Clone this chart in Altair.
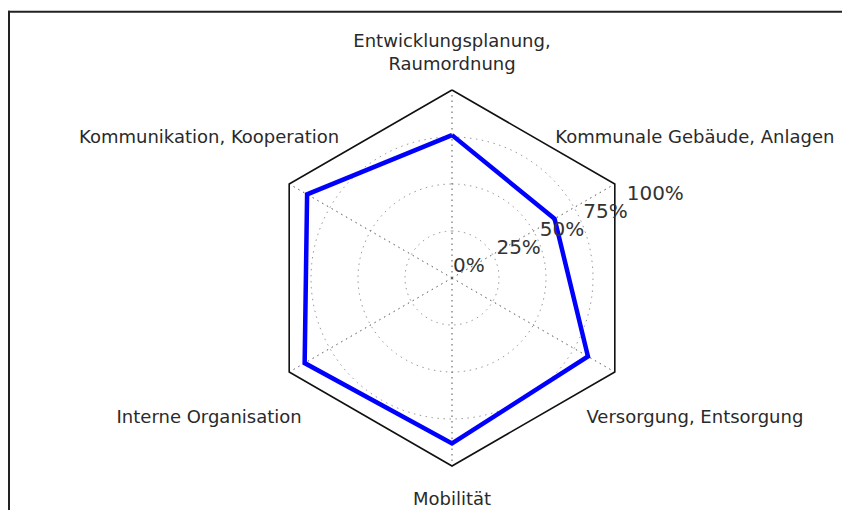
import altair as alt
import pandas as pd

# ---- data ----
categories = [
    "Entwicklungsplanung,\nRaumordnung",
    "Kommunale Gebäude, Anlagen",
    "Versorgung, Entsorgung",
    "Mobilität",
    "Interne Organisation",
    "Kommunikation, Kooperation",
]
values = [0.76, 0.63, 0.835, 0.88, 0.905, 0.89]
ring_levels = [0.25, 0.5, 0.75]
tick_values = [0.0, 0.25, 0.5, 0.75, 1.0]
tick_labels = ["0%", "25%", "50%", "75%", "100%"]

# ---- layout ----
W, H = 834, 502
CX, CY = 444, 270   # centre of the radar inside the plot area (px)
RPX = 188           # pixels per 100 %
LINE_H = 23

xs = alt.Scale(domain=[-CX / RPX, (W - CX) / RPX], nice=False, zero=False)
ys = alt.Scale(domain=[-(H - CY) / RPX, CY / RPX], nice=False, zero=False)


def X(f):
    return alt.X(f, type="quantitative", scale=xs, axis=None)


def Y(f):
    return alt.Y(f, type="quantitative", scale=ys, axis=None)


axis_df = pd.DataFrame({"idx": list(range(len(categories))), "cat": categories, "value": values})
closed_df = pd.concat([axis_df, axis_df.iloc[[0]].assign(idx=len(categories))], ignore_index=True)
ring_df = pd.DataFrame(
    [(lv, d) for lv in ring_levels for d in range(0, 361, 2)], columns=["level", "deg"]
)
tick_df = pd.DataFrame({"v": tick_values, "label": tick_labels})

ANG = "datum.idx * 2 * PI / 6"

base_one = alt.Chart(pd.DataFrame({"k": [0]}))
frame_top = base_one.mark_rule(color="#222222", strokeWidth=2).encode(
    x=alt.value(0), x2=alt.value(W + 30), y=alt.value(3.7)
)
frame_left = base_one.mark_rule(color="#222222", strokeWidth=2).encode(
    x=alt.value(1), y=alt.value(2.7), y2=alt.value(H + 30)
)

rings = alt.Chart(ring_df).transform_calculate(
    x="datum.level * sin(datum.deg * PI / 180)",
    y="datum.level * cos(datum.deg * PI / 180)",
).mark_line(color="#999999", strokeWidth=1, strokeDash=[1.5, 4.5]).encode(
    x=X("x"), y=Y("y"), detail="level:N", order="deg:Q"
)

spokes = alt.Chart(axis_df).transform_calculate(
    x0="0", y0="0", sx=f"sin({ANG})", sy=f"cos({ANG})"
).mark_rule(color="#555555", strokeWidth=1, strokeDash=[1.5, 4]).encode(
    x=X("x0"), y=Y("y0"), x2="sx:Q", y2="sy:Q"
)

hexagon = alt.Chart(closed_df).transform_calculate(
    hx=f"sin({ANG})", hy=f"cos({ANG})"
).mark_line(color="#111111", strokeWidth=1.6, strokeJoin="miter").encode(
    x=X("hx"), y=Y("hy"), order="idx:Q"
)

poly = alt.Chart(closed_df).transform_calculate(
    px=f"datum.value * sin({ANG})", py=f"datum.value * cos({ANG})"
).mark_line(color="#0000ff", strokeWidth=4.5, strokeJoin="miter").encode(
    x=X("px"), y=Y("py"), order="idx:Q"
)

ticks = alt.Chart(tick_df).transform_calculate(
    tx="datum.v * cos(PI / 8)", ty="datum.v * sin(PI / 8)"
).mark_text(
    align="left", baseline="alphabetic", dx=1, dy=-6, fontSize=20,
    font="DejaVu Sans", color="#333333"
).encode(x=X("tx"), y=Y("ty"), text="label:N")

cats = alt.Chart(axis_df).transform_calculate(
    rl=f"1.18 + 0.36 * abs(sin({ANG}))",
    nlines="length(split(datum.cat, '\\n'))",
).transform_calculate(
    lx=f"datum.rl * sin({ANG})",
    ly=f"datum.rl * cos({ANG}) + (datum.nlines - 1) * {(LINE_H / 2 + 3) / RPX}",
).mark_text(
    align="center", baseline="middle", lineBreak="\n", lineHeight=LINE_H,
    fontSize=18, font="DejaVu Sans", color="#2a2a2a"
).encode(x=X("lx"), y=Y("ly"), text="cat:N")

chart = alt.layer(
    frame_top, frame_left, rings, spokes, hexagon, poly, ticks, cats
).properties(
    width=W, height=H, padding=0, autosize=alt.AutoSizeParams(type="none")
).configure_view(strokeWidth=0)

chart.save("out.html", embed_options={"renderer": "svg", "actions": False})
